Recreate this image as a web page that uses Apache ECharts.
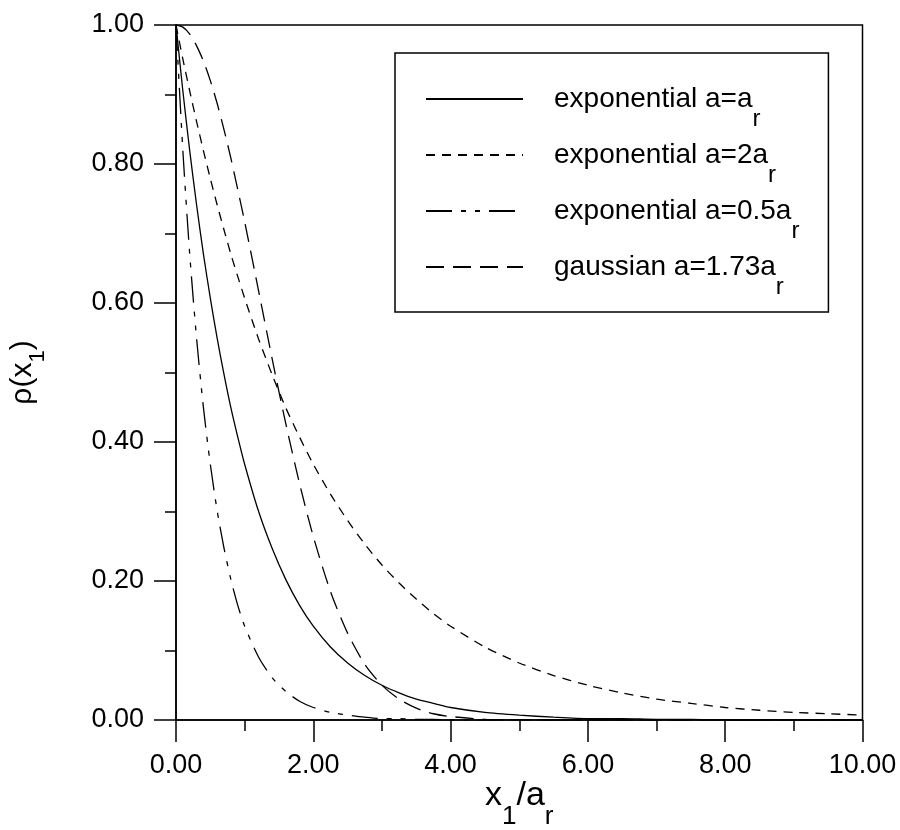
<!DOCTYPE html>
<html>
<head>
<meta charset="utf-8">
<script src="https://cdn.jsdelivr.net/npm/echarts@6/dist/echarts.min.js"></script>
<style>
  html, body { margin: 0; padding: 0; background: #fff; }
  #chart { width: 900px; height: 830px; }
</style>
</head>
<body>
<div id="chart"></div>
<script>
// Sample positions along x1/ar shared by all four curves
const xs = [0, 0.1, 0.2, 0.3, 0.4, 0.5, 0.6, 0.7, 0.8, 0.9, 1.0, 1.2, 1.4, 1.6, 1.8, 2.0,
  2.25, 2.5, 2.75, 3.0, 3.25, 3.5, 3.75, 4.0, 4.5, 5.0, 5.5, 6.0, 6.5, 7.0, 7.5, 8.0, 8.5, 9.0, 9.5, 10.0];

// rho(x1) for each correlation model
const expA = [1.000, 0.905, 0.819, 0.741, 0.670, 0.607, 0.549, 0.497, 0.449, 0.407, 0.368, 0.301,
  0.247, 0.202, 0.165, 0.135, 0.105, 0.082, 0.064, 0.050, 0.039, 0.030, 0.024, 0.018, 0.011, 0.007,
  0.004, 0.002, 0.002, 0.001, 0.001, 0.000, 0.000, 0.000, 0.000, 0.000];
const exp2A = [1.000, 0.951, 0.905, 0.861, 0.819, 0.779, 0.741, 0.705, 0.670, 0.638, 0.607, 0.549,
  0.497, 0.449, 0.407, 0.368, 0.325, 0.287, 0.253, 0.223, 0.197, 0.174, 0.153, 0.135, 0.105, 0.082,
  0.064, 0.050, 0.039, 0.030, 0.024, 0.018, 0.014, 0.011, 0.009, 0.007];
const expHalfA = [1.000, 0.819, 0.670, 0.549, 0.449, 0.368, 0.301, 0.247, 0.202, 0.165, 0.135, 0.091,
  0.061, 0.041, 0.027, 0.018, 0.011, 0.007, 0.004, 0.002, 0.002, 0.001, 0.001, 0.000, 0.000, 0.000,
  0.000, 0.000, 0.000, 0.000, 0.000, 0.000, 0.000, 0.000, 0.000, 0.000];
const gauss = [1.000, 0.997, 0.987, 0.970, 0.948, 0.920, 0.887, 0.849, 0.808, 0.763, 0.717, 0.619,
  0.520, 0.426, 0.340, 0.264, 0.185, 0.125, 0.080, 0.050, 0.030, 0.017, 0.009, 0.005, 0.001, 0.000,
  0.000, 0.000, 0.000, 0.000, 0.000, 0.000, 0.000, 0.000, 0.000, 0.000];

const seriesNames = ['exponential a=a_r', 'exponential a=2a_r', 'exponential a=0.5a_r', 'gaussian a=1.73a_r'];
const legendLabels = ['exponential a=a{s|r}', 'exponential a=2a{s|r}', 'exponential a=0.5a{s|r}', 'gaussian a=1.73a{s|r}'];
const seriesValues = [expA, exp2A, expHalfA, gauss];
const dashes = ['solid', [9, 7], [26, 9, 5, 9, 5, 9], [18, 9]];

const FONT = "'Liberation Sans', Arial, sans-serif";

// Subscript token: the negative bottom padding drops the glyphs below the
// baseline without making the text line any taller.
function sub(size, drop) {
  return { fontFamily: FONT, fontSize: size, color: '#000', padding: [0, 0, -2 * drop, 0] };
}

const series = seriesNames.map((name, i) => ({
  name: name,
  type: 'line',
  data: xs.map((x, j) => [x, seriesValues[i][j]]),
  symbol: 'none',
  smooth: 0.25,
  clip: true,
  itemStyle: { color: '#000' },
  lineStyle: { color: '#000', width: 1.3, type: dashes[i] }
}));

const axisCommon = {
  nameMoveOverlap: false,
  axisLine: { show: true, lineStyle: { color: '#000', width: 1.5 } },
  axisTick: { show: true, inside: false, length: 22, lineStyle: { color: '#000', width: 1.5 } },
  minorTick: { show: true, splitNumber: 2, length: 11, lineStyle: { color: '#000', width: 1.5 } },
  splitLine: { show: false },
  minorSplitLine: { show: false },
  axisLabel: { margin: 32, fontFamily: FONT, fontSize: 27, color: '#000', formatter: v => v.toFixed(2) }
};

const chart = echarts.init(document.getElementById('chart'), null, { renderer: 'canvas' });
chart.setOption({
  animation: false,
  backgroundColor: '#fff',
  grid: {
    left: 176, right: 37.5, top: 25, bottom: 110,
    outerBoundsMode: 'none',
    containLabel: false,
    show: true, borderColor: '#000', borderWidth: 1.5, backgroundColor: 'transparent'
  },
  legend: {
    data: seriesNames,
    orient: 'vertical',
    left: 395, top: 53,
    padding: [28, 29, 13, 30],
    itemGap: 6,
    itemWidth: 97,
    itemHeight: 14,
    selectedMode: false,
    borderColor: '#000',
    borderWidth: 1.5,
    backgroundColor: '#fff',
    itemStyle: { opacity: 0 },
    formatter: name => legendLabels[seriesNames.indexOf(name)],
    textStyle: {
      fontFamily: FONT, fontSize: 28, color: '#000', lineHeight: 36,
      padding: [0, 0, 0, 26],
      rich: { s: sub(24, 20) }
    }
  },
  xAxis: Object.assign({
    type: 'value', min: 0, max: 10, interval: 2,
    name: 'x{s|1}/a{s|r}',
    nameLocation: 'middle', nameGap: 56,
    nameTextStyle: {
      fontFamily: FONT, fontSize: 34, color: '#000', lineHeight: 40,
      rich: { s: sub(26, 21) }
    }
  }, axisCommon),
  yAxis: Object.assign({
    type: 'value', min: 0, max: 1, interval: 0.2,
    name: 'ρ(x{s|1})',
    nameLocation: 'middle', nameGap: 135,
    nameTextStyle: {
      fontFamily: FONT, fontSize: 30, color: '#000', lineHeight: 36,
      rich: { s: sub(22, 15) }
    }
  }, axisCommon),
  series: series
});
</script>
</body>
</html>
